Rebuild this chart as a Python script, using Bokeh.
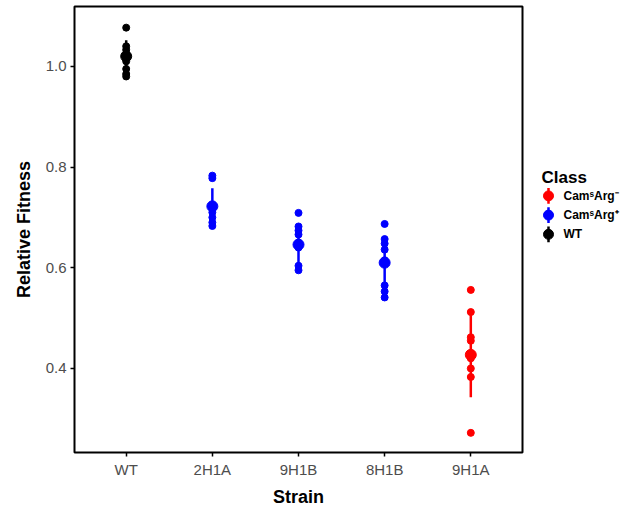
from bokeh.plotting import figure
from bokeh.layouts import row
from bokeh.models import Range1d, FixedTicker, ColumnDataSource, PrintfTickFormatter
from bokeh.embed import file_html
from bokeh.resources import INLINE
from bokeh.core.properties import value

# ---- data ----
strains = ["WT", "2H1A", "9H1B", "8H1B", "9H1A"]
strain_class = ["WT", "CamSArg+", "CamSArg+", "CamSArg+", "CamSArg-"]

wt_vals = [1.077, 1.040, 1.033, 1.025, 1.010, 0.995, 0.985, 0.980]
h2_1a_vals = [0.783, 0.778, 0.725, 0.720, 0.710, 0.700, 0.690, 0.683]
h9_1b_vals = [0.709, 0.682, 0.674, 0.666, 0.650, 0.640, 0.604, 0.595]
h8_1b_vals = [0.687, 0.657, 0.648, 0.636, 0.615, 0.565, 0.553, 0.541]
h9_1a_vals = [0.556, 0.512, 0.462, 0.455, 0.430, 0.420, 0.400, 0.383, 0.272]

means = [1.020, 0.722, 0.646, 0.610, 0.427]
err_lo = [0.978, 0.684, 0.606, 0.563, 0.343]
err_hi = [1.052, 0.758, 0.686, 0.657, 0.512]

legend_classes = ["CamSArg-", "CamSArg+", "WT"]
legend_labels = ["Cam\u02e2Arg\u207b", "Cam\u02e2Arg\u207a", "WT"]
class_colors = {"CamSArg-": "#FF0000", "CamSArg+": "#0000FF", "WT": "#000000"}

y_ticks = [0.4, 0.6, 0.8, 1.0]

FONT = "Liberation Sans"

# ---- build sources ----
all_vals = [wt_vals, h2_1a_vals, h9_1b_vals, h8_1b_vals, h9_1a_vals]
px, py, pc = [], [], []
for i, vals in enumerate(all_vals):
    for v in vals:
        px.append(i + 1)
        py.append(v)
        pc.append(class_colors[strain_class[i]])
pts = ColumnDataSource(dict(x=px, y=py, c=pc))

pos = [i + 1 for i in range(len(strains))]
summ = ColumnDataSource(dict(x=pos, m=means, lo=err_lo, hi=err_hi,
                             c=[class_colors[k] for k in strain_class]))

# ---- main figure ----
p = figure(width=530, height=511,
           x_range=Range1d(0.4, 5.6), y_range=Range1d(0.233, 1.119),
           output_backend="svg", toolbar_location=None,
           min_border_left=74, min_border_right=8,
           min_border_top=6, min_border_bottom=59)
p.background_fill_color = "white"
p.border_fill_color = "white"
p.outline_line_color = "black"
p.outline_line_width = 2
p.grid.visible = False

p.xaxis.ticker = FixedTicker(ticks=pos)
p.xaxis.major_label_overrides = {i + 1: s for i, s in enumerate(strains)}
p.yaxis.ticker = FixedTicker(ticks=y_ticks)
p.yaxis.formatter = PrintfTickFormatter(format="%.1f")

for ax in [p.xaxis[0], p.yaxis[0]]:
    ax.axis_line_color = "black"
    ax.axis_line_width = 1
    ax.major_tick_in = 0
    ax.major_tick_out = 4
    ax.major_tick_line_color = "black"
    ax.major_tick_line_width = 1.5
    ax.minor_tick_line_color = None
    ax.major_label_text_font = FONT
    ax.major_label_text_font_size = "15px"
    ax.major_label_text_color = "#4D4D4D"
    ax.axis_label_text_font = FONT
    ax.axis_label_text_font_size = "18px"
    ax.axis_label_text_font_style = "bold"
    ax.axis_label_text_color = "black"

p.xaxis.axis_label = "Strain"
p.yaxis.axis_label = "Relative Fitness"
p.xaxis.major_label_standoff = 4
p.yaxis.major_label_standoff = 4
p.xaxis.axis_label_standoff = 6
p.yaxis.axis_label_standoff = 9

p.scatter("x", "y", source=pts, size=7, color="c", line_color="c")
p.segment(x0="x", y0="lo", x1="x", y1="hi", source=summ, line_color="c", line_width=2.5)
p.scatter("x", "m", source=summ, size=11, color="c", line_color="c")

# ---- legend panel ----
lf = figure(width=103, height=511, x_range=Range1d(530, 633), y_range=Range1d(511, 0),
            output_backend="svg", toolbar_location=None,
            x_axis_location=None, y_axis_location=None, min_border=0)
lf.outline_line_color = None
lf.grid.visible = False
lf.background_fill_color = "white"
lf.border_fill_color = "white"

lf.text(x=[541], y=[196], text=["Class"], text_font=value(FONT), text_font_size="17px",
        text_font_style="bold", text_baseline="middle", text_align="left", text_color="black")

ly = [217 + 22 * i for i in range(len(legend_classes))]
lx = [548] * len(legend_classes)
lcol = [class_colors[k] for k in legend_classes]
leg = ColumnDataSource(dict(x=lx, y=ly, y0=[v - 9 for v in ly], y1=[v + 9 for v in ly],
                            c=lcol, t=legend_labels, tx=[563] * len(legend_classes)))
lf.segment(x0="x", y0="y0", x1="x", y1="y1", source=leg, line_color="c", line_width=2.5)
lf.scatter("x", "y", source=leg, size=10, color="c", line_color="c")
lf.text(x="tx", y="y", text="t", source=leg, text_font=value(FONT), text_font_size="12px",
        text_font_style="bold", text_baseline="middle", text_align="left", text_color="black")

layout = row(p, lf, spacing=0)
open("out.html", "w").write(file_html(layout, INLINE))
